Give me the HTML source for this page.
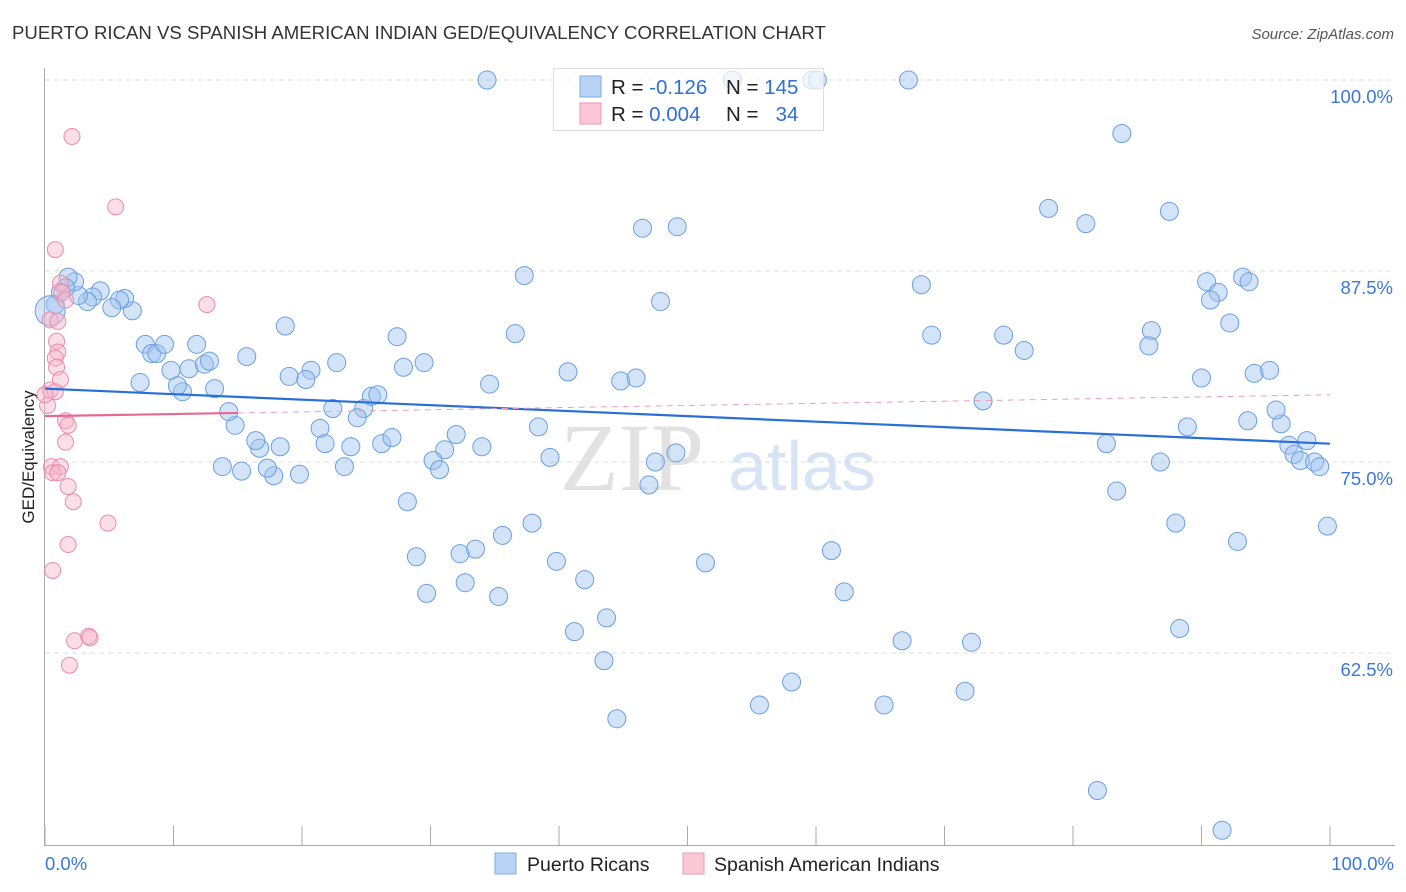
<!DOCTYPE html>
<html><head><meta charset="utf-8"><style>
body{margin:0;background:#fff;font-family:"Liberation Sans",sans-serif;}
#wrap{position:relative;width:1406px;height:892px;overflow:hidden;}
</style></head><body>
<div id="wrap">
<svg id="svg" width="1406" height="892" xmlns="http://www.w3.org/2000/svg">
<text x="12" y="39" font-size="18.6" fill="#333">PUERTO RICAN VS SPANISH AMERICAN INDIAN GED/EQUIVALENCY CORRELATION CHART</text>
<text x="1394" y="39" font-size="15" fill="#555" font-style="italic" text-anchor="end">Source: ZipAtlas.com</text>
<text transform="translate(34,457) rotate(-90)" font-size="17" fill="#222" text-anchor="middle">GED/Equivalency</text>
<g>
<text x="632" y="490" font-size="96" font-family="Liberation Serif,serif" fill="#e2e2e2" text-anchor="middle">ZIP</text>
<text x="802" y="490" font-size="70" fill="#d6e4f5" text-anchor="middle">atlas</text>
</g>
<g id="grid"></g><g id="axes"></g><g id="pts"></g><g id="trends"></g>
<g>
<rect x="553.5" y="68.5" width="270" height="62" fill="#fff" fill-opacity="0.7" stroke="#ddd"/>
<rect x="580" y="76" width="21" height="21" fill="#b8d3f5" stroke="#7eaee8"/>
<rect x="580" y="103" width="21" height="21" fill="#fbc6d5" stroke="#ee9ab4"/>
<text x="611" y="94" font-size="20.5" fill="#222">R = <tspan fill="#2f6fd6">-0.126</tspan></text>
<text x="726" y="94" font-size="20.5" fill="#222">N = <tspan fill="#2f6fd6">145</tspan></text>
<text x="611" y="121" font-size="20.5" fill="#222">R = <tspan fill="#2f6fd6">0.004</tspan></text>
<text x="726" y="121" font-size="20.5" fill="#222">N = <tspan fill="#2f6fd6">&#160;&#160;34</tspan></text>
</g>
<g>
<rect x="495" y="853" width="21" height="21" fill="#b8d3f5" stroke="#7eaee8"/>
<text x="527" y="871" font-size="19.5" fill="#222">Puerto Ricans</text>
<rect x="683" y="853" width="21" height="21" fill="#fbc6d5" stroke="#ee9ab4"/>
<text x="714" y="871" font-size="19.5" fill="#222">Spanish American Indians</text>
</g>
</svg>
</div>
<script>
const yTicks=[100,87.5,75,62.5];
const yTickLabels=["100.0%","87.5%","75.0%","62.5%"];
const xTickLabels=["0.0%","100.0%"];
const blueX=[34.4,53.5,59.7,60.1,67.2,83.8,78.1,81.0,87.5,46.5,49.2,37.3,68.2,90.4,93.2,93.7,91.3,90.7,47.9,92.2,36.6,69.0,74.6,86.1,85.9,76.2,18.7,27.4,29.5,27.9,22.7,20.7,19.0,20.3,40.7,44.8,46.0,34.6,90.0,94.1,95.3,73.0,93.6,96.2,95.8,88.9,82.6,96.8,97.2,98.2,97.7,98.8,99.2,86.8,83.4,88.0,92.8,99.8,88.3,71.6,72.1,66.7,65.3,81.9,91.6,55.6,58.1,43.5,44.5,41.2,43.7,62.2,61.2,51.4,42.0,39.8,37.9,35.6,33.5,32.3,32.7,35.3,29.7,28.9,28.2,38.4,39.3,47.5,47.0,49.1,34.0,32.0,31.1,30.2,30.7,22.4,24.8,25.4,25.9,24.3,21.4,21.8,23.8,23.3,26.2,27.0,18.3,19.8,17.8,17.3,16.7,16.4,14.8,14.3,13.8,15.3,13.2,10.7,10.3,11.2,9.8,11.8,12.4,12.8,15.7,7.8,8.3,8.7,9.3,7.4,6.8,6.2,5.8,5.2,4.3,3.7,3.3,2.6,2.3,1.8,1.6,1.2,0.8,0.4];
const blueY=[100,100,100,100,100,96.5,91.6,90.6,91.4,90.3,90.4,87.2,86.6,86.8,87.1,86.8,86.1,85.6,85.5,84.1,83.4,83.3,83.3,83.6,82.6,82.3,83.9,83.2,81.5,81.2,81.5,81.0,80.6,80.4,80.9,80.3,80.5,80.1,80.5,80.8,81.0,79.0,77.7,77.5,78.4,77.3,76.2,76.1,75.5,76.4,75.1,75.0,74.7,75.0,73.1,71.0,69.8,70.8,64.1,60.0,63.2,63.3,59.1,53.5,50.9,59.1,60.6,62.0,58.2,63.9,64.8,66.5,69.2,68.4,67.3,68.5,71.0,70.2,69.3,69.0,67.1,66.2,66.4,68.8,72.4,77.3,75.3,75.0,73.5,75.6,76.0,76.8,75.8,75.1,74.5,78.5,78.5,79.3,79.4,77.9,77.2,76.2,76.0,74.7,76.2,76.6,76.0,74.2,74.1,74.6,75.9,76.4,77.4,78.3,74.7,74.4,79.8,79.6,80.0,81.1,81.0,82.7,81.4,81.6,81.9,82.7,82.1,82.1,82.7,80.2,84.9,85.7,85.6,85.1,86.2,85.8,85.5,85.9,86.8,87.1,86.4,86.1,85.3,84.9];
const pinkX=[2.1,5.5,0.8,12.6,1.2,1.3,1.6,0.4,1.0,0.9,1.0,0.8,0.9,1.2,0.4,0.8,0.2,1.6,1.8,1.6,0.5,1.2,0.6,1.0,1.8,2.2,4.9,1.8,0.6,2.3,3.4,3.5,1.9,0.0];
const pinkY=[96.3,91.7,88.9,85.3,86.7,86.1,85.6,84.3,84.2,82.9,82.2,81.8,81.2,80.4,79.7,79.6,78.7,77.7,77.4,76.3,74.7,74.7,74.3,74.3,73.4,72.4,71.0,69.6,67.9,63.3,63.6,63.5,61.7,79.4];
const blueTrend=[79.8,76.2];
const pinkTrend=[78.0,79.4];
const pinkSolidEnd=15;

const X=p=>45+p*12.85, Y=v=>80+(100-v)*15.28;
const NS="http://www.w3.org/2000/svg";
function mk(tag,attrs,parent){const e=document.createElementNS(NS,tag);for(const k in attrs)e.setAttribute(k,attrs[k]);document.getElementById(parent).appendChild(e);return e;}
yTicks.forEach((t,i)=>{
 const g=mk('line',{x1:45,x2:1395,y1:Y(t),y2:Y(t),stroke:'#dcdcdc','stroke-dasharray':'5,4'},'grid');
 
 
 const l=mk('text',{x:1393,y:Y(t)+23,'font-size':18.5,fill:'#3a78d8','text-anchor':'end'},'axes');
 l.textContent=yTickLabels[i];
 
 
});
const ax=mk('line',{x1:44.5,x2:44.5,y1:68,y2:845,stroke:'#aaa'},'axes');


const bx=mk('line',{x1:44,x2:1395,y1:845.5,y2:845.5,stroke:'#aaa'},'axes');


for(let i=0;i<=10;i++){
 const t=mk('line',{x1:X(i*10),x2:X(i*10),y1:826,y2:845,stroke:'#aaa'},'axes');
 
 
}
[[0,'start',45],[100,'end',1394]].forEach((d,i)=>{
 const l=mk('text',{x:d[2],y:870,'font-size':18.5,fill:'#3a78d8','text-anchor':d[1]},'axes');
 l.textContent=xTickLabels[i];
 
 
});
blueX.forEach((x,i)=>{
 const c=mk('circle',{cx:X(x),cy:Y(blueY[i]),r:i===blueX.length-1?15:9,fill:'rgba(160,195,240,0.45)',stroke:'#6a9fe2','stroke-width':1},'pts');
 
 
});
pinkX.forEach((x,i)=>{
 const c=mk('circle',{cx:X(x),cy:Y(pinkY[i]),r:8,fill:'rgba(248,182,202,0.45)',stroke:'#e98cab','stroke-width':1},'pts');
 
 
});
const bt=mk('line',{x1:X(0),y1:Y(blueTrend[0]),x2:X(100),y2:Y(blueTrend[1]),stroke:'#2a6fd8','stroke-width':2.2},'trends');


const pv=p=>pinkTrend[0]+(pinkTrend[1]-pinkTrend[0])*p/100;
const pd=mk('line',{x1:X(pinkSolidEnd),y1:Y(pv(pinkSolidEnd)),x2:X(100),y2:Y(pinkTrend[1]),stroke:'#eaa0b8','stroke-width':1,'stroke-dasharray':'6,5'},'trends');


const ps=mk('line',{x1:X(0),y1:Y(pinkTrend[0]),x2:X(pinkSolidEnd),y2:Y(pv(pinkSolidEnd)),stroke:'#e56a93','stroke-width':2.2},'trends');


</script>
</body></html>
